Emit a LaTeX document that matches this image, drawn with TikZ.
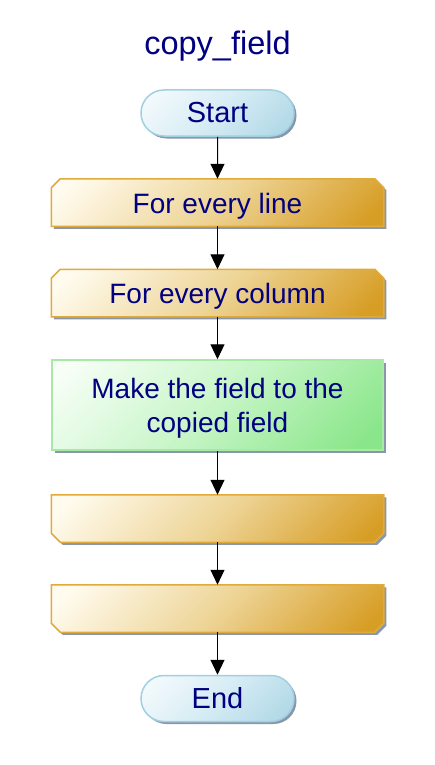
\documentclass[tikz,border=0pt]{standalone}
\usepackage{fontspec}
\setmainfont{Liberation Sans}
\usetikzlibrary{shapes.misc,shadows,arrows.meta,backgrounds}
\definecolor{ink}{RGB}{0,0,128}
\definecolor{termA}{RGB}{244,250,252}
\definecolor{termM}{RGB}{214,236,244}
\definecolor{termB}{RGB}{176,216,230}
\definecolor{termline}{RGB}{160,208,226}
\definecolor{goldA}{RGB}{255,251,238}
\definecolor{goldM}{RGB}{238,213,152}
\definecolor{goldB}{RGB}{215,158,38}
\definecolor{goldline}{RGB}{226,170,58}
\definecolor{greenA}{RGB}{246,254,246}
\definecolor{greenM}{RGB}{198,245,198}
\definecolor{greenB}{RGB}{138,230,138}
\definecolor{greenline}{RGB}{166,234,166}
\definecolor{shadowc}{RGB}{136,152,170}
% diagonal fills: dark towards the lower right, light towards the upper left
\pgfdeclareverticalshading{termfill}{142bp}{color(0bp)=(termB); color(40bp)=(termB); color(71bp)=(termM); color(102bp)=(termA); color(142bp)=(termA)}
\pgfdeclareverticalshading{goldfill}{142bp}{color(0bp)=(goldB); color(40bp)=(goldB); color(71bp)=(goldM); color(102bp)=(goldA); color(142bp)=(goldA)}
\pgfdeclareverticalshading{greenfill}{142bp}{color(0bp)=(greenB); color(40bp)=(greenB); color(71bp)=(greenM); color(102bp)=(greenA); color(142bp)=(greenA)}
% outline of a loop box with the two upper corners cut off
\newcommand\cutnorth[1]{(#1.south west) -- ([yshift=-9pt]#1.north west) -- ([xshift=9pt]#1.north west)
  -- ([xshift=-9pt]#1.north east) -- ([yshift=-9pt]#1.north east) -- (#1.south east) -- cycle}
% outline of a loop box with the two lower corners cut off
\newcommand\cutsouth[1]{(#1.north west) -- ([yshift=9pt]#1.south west) -- ([xshift=9pt]#1.south west)
  -- ([xshift=-9pt]#1.south east) -- ([yshift=9pt]#1.south east) -- (#1.north east) -- cycle}
\begin{document}
\begin{tikzpicture}[x=1pt,y=-1pt,
  txt/.style={font=\fontsize{28}{34}\selectfont, text=ink},
  softshadow/.style={drop shadow={shadow xshift=2.5pt, shadow yshift=-2.5pt, fill=shadowc, opacity=1}},
  box/.style={txt, line width=1.5pt, inner sep=0pt},
  terminal/.style={box, softshadow, rounded rectangle, minimum width=153pt, minimum height=46pt,
    font=\fontsize{29}{34}\selectfont, draw=termline, shade, shading=termfill, shading angle=45},
  loopbox/.style={box, rectangle, minimum width=331pt, minimum height=46pt,
    text height=25pt, text depth=4pt},
  loopfill/.style={draw=goldline, line width=1.5pt, shade, shading=goldfill, shading angle=45},
  action/.style={box, softshadow, rectangle, minimum width=331pt, minimum height=90pt, align=center,
    draw=greenline, shade, shading=greenfill, shading angle=45},
  flow/.style={line width=1pt, -{Triangle[length=15pt, width=14pt]}}
]
\useasboundingbox (0,0) rectangle (435,765);

\node[txt, font=\fontsize{32.5}{36}\selectfont] (title) at (217.5,46) {copy\_field};

\node[terminal] (start) at (217.5,113) {Start};
\node[loopbox] (line) at (217.5,202.5) {For every line};
\node[loopbox] (column) at (217.5,293) {For every column};
\node[action] (make) at (217.5,405) {\raisebox{-4pt}[\height][\depth]{\begin{tabular}{@{}c@{}}Make the field to the\\copied field\end{tabular}}};
\node[loopbox] (endcolumn) at (217.5,518.5) {};
\node[loopbox] (endline) at (217.5,608.5) {};
\node[terminal] (stop) at (217.5,698.5) {End};

\begin{scope}[on background layer]
  \fill[white] (0,0) rectangle (435,765);
  \foreach \n in {line,column} {
    \fill[shadowc, transform canvas={xshift=2.5pt, yshift=-2.5pt}] \cutnorth{\n};
    \path[loopfill] \cutnorth{\n};
  }
  \foreach \n in {endcolumn,endline} {
    \fill[shadowc, transform canvas={xshift=2.5pt, yshift=-2.5pt}] \cutsouth{\n};
    \path[loopfill] \cutsouth{\n};
  }
\end{scope}

\draw[flow] (start) -- (line);
\draw[flow] (line) -- (column);
\draw[flow] (column) -- (make);
\draw[flow] (make) -- (endcolumn);
\draw[flow] (endcolumn) -- (endline);
\draw[flow] (endline) -- (stop);
\end{tikzpicture}
\end{document}
